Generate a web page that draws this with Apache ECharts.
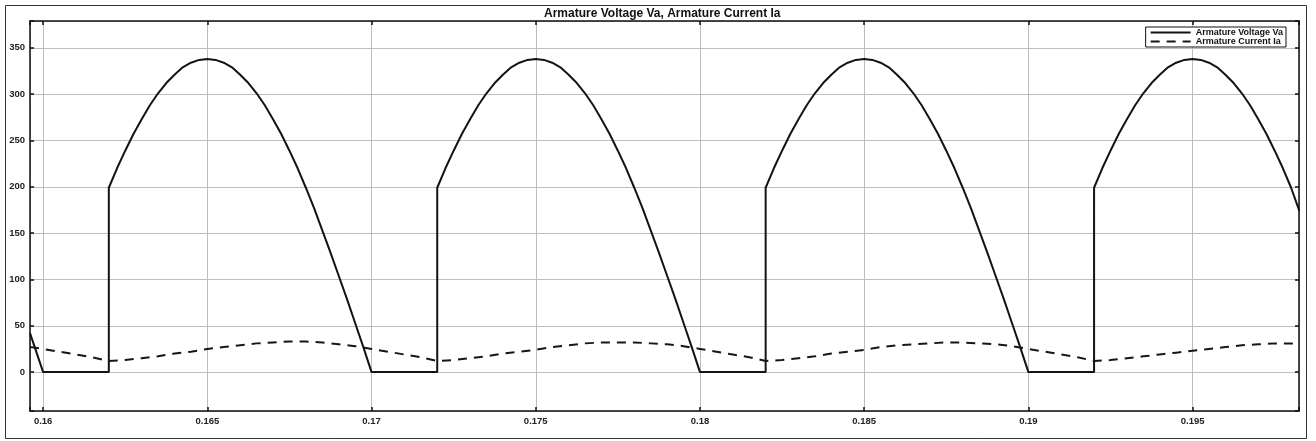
<!DOCTYPE html>
<html>
<head>
<meta charset="utf-8">
<script src="https://cdn.jsdelivr.net/npm/echarts@6/dist/echarts.min.js"></script>
<style>
  html, body { margin: 0; padding: 0; background: #fff; }
  #main { width: 1316px; height: 441px; }
</style>
</head>
<body>
<div id="main"></div>
<script>
// 数据：电枢电压 Va（时间 / 数值）
var vaTime = [
  0.1596, 0.16, 0.162, 0.162, 0.16225, 0.1625, 0.16275, 0.163, 0.16325, 0.1635, 0.16375, 0.164, 0.16425, 0.1645, 0.16475,
  0.165, 0.16525, 0.1655, 0.16575, 0.166, 0.16625, 0.1665, 0.16675, 0.167, 0.16725, 0.1675, 0.16775, 0.168, 0.16825,
  0.1685, 0.16875, 0.169, 0.16925, 0.1695, 0.16975,
  0.17, 0.172, 0.172, 0.17225, 0.1725, 0.17275, 0.173, 0.17325, 0.1735, 0.17375, 0.174, 0.17425, 0.1745, 0.17475,
  0.175, 0.17525, 0.1755, 0.17575, 0.176, 0.17625, 0.1765, 0.17675, 0.177, 0.17725, 0.1775, 0.17775, 0.178, 0.17825,
  0.1785, 0.17875, 0.179, 0.17925, 0.1795, 0.17975,
  0.18, 0.182, 0.182, 0.18225, 0.1825, 0.18275, 0.183, 0.18325, 0.1835, 0.18375, 0.184, 0.18425, 0.1845, 0.18475,
  0.185, 0.18525, 0.1855, 0.18575, 0.186, 0.18625, 0.1865, 0.18675, 0.187, 0.18725, 0.1875, 0.18775, 0.188, 0.18825,
  0.1885, 0.18875, 0.189, 0.18925, 0.1895, 0.18975,
  0.19, 0.192, 0.192, 0.19225, 0.1925, 0.19275, 0.193, 0.19325, 0.1935, 0.19375, 0.194, 0.19425, 0.1945, 0.19475,
  0.195, 0.19525, 0.1955, 0.19575, 0.196, 0.19625, 0.1965, 0.19675, 0.197, 0.19725, 0.1975, 0.19775, 0.198, 0.19825
];
var vaValue = [
  42, 0, 0, 199, 220, 239, 257, 273, 288, 301, 312, 321, 329, 334, 337,
  338, 337, 334, 329, 321, 312, 301, 288, 273, 257, 239, 220, 199, 177,
  153, 129, 104, 79, 53, 27,
  0, 0, 199, 220, 239, 257, 273, 288, 301, 312, 321, 329, 334, 337,
  338, 337, 334, 329, 321, 312, 301, 288, 273, 257, 239, 220, 199, 177,
  153, 129, 104, 79, 53, 27,
  0, 0, 199, 220, 239, 257, 273, 288, 301, 312, 321, 329, 334, 337,
  338, 337, 334, 329, 321, 312, 301, 288, 273, 257, 239, 220, 199, 177,
  153, 129, 104, 79, 53, 27,
  0, 0, 199, 220, 239, 257, 273, 288, 301, 312, 321, 329, 334, 337,
  338, 337, 334, 329, 321, 312, 301, 288, 273, 257, 239, 220, 199, 174
];

// 数据：电枢电流 Ia
var iaTime = [
  0.1596, 0.16, 0.1605, 0.161, 0.1615, 0.162, 0.1625, 0.163, 0.1635, 0.164, 0.1645,
  0.165, 0.1655, 0.166, 0.1665, 0.167, 0.1675, 0.168, 0.1685, 0.169, 0.1695,
  0.17, 0.1705, 0.171, 0.1715, 0.172, 0.1725, 0.173, 0.1735, 0.174, 0.1745,
  0.175, 0.1755, 0.176, 0.1765, 0.177, 0.1775, 0.178, 0.1785, 0.179, 0.1795,
  0.18, 0.1805, 0.181, 0.1815, 0.182, 0.1825, 0.183, 0.1835, 0.184, 0.1845,
  0.185, 0.1855, 0.186, 0.1865, 0.187, 0.1875, 0.188, 0.1885, 0.189, 0.1895,
  0.19, 0.1905, 0.191, 0.1915, 0.192, 0.1925, 0.193, 0.1935, 0.194, 0.1945,
  0.195, 0.1955, 0.196, 0.1965, 0.197, 0.1975, 0.198, 0.19825
];
var iaValue = [
  27, 25, 22, 19, 16, 12, 13, 15, 17, 20, 22,
  25, 27, 29, 31, 32, 33, 33, 32, 30, 28,
  25, 22, 19, 16, 12, 13, 15, 17, 20, 22,
  24, 27, 29, 31, 32, 32, 32, 31, 30, 28,
  25, 22, 19, 16, 12, 13, 15, 17, 20, 22,
  24, 27, 29, 30, 31, 32, 32, 31, 30, 28,
  25, 22, 19, 16, 12, 13, 15, 17, 19, 21,
  23, 25, 27, 29, 30, 31, 31, 31
];

var seriesNames = ['Armature Voltage Va', 'Armature Current Ia'];
var chartTitle = 'Armature Voltage Va, Armature Current Ia';

function pairs(t, v) {
  var out = [];
  for (var i = 0; i < t.length; i++) out.push([t[i], v[i]]);
  return out;
}

var xMin = 0.1596, xMax = 0.19824;
var yMin = -42, yMax = 379;

function xLabel(v) {
  var k = Math.round(v * 200);
  if (Math.abs(v * 200 - k) > 1e-6) return '';
  return String(+(k / 200).toFixed(3));
}
function yLabel(v) {
  if (Math.abs(v % 50) > 1e-6) return '';
  return String(v);
}

var myChart = echarts.init(document.getElementById('main'));

var axisLineStyle = { color: '#111', width: 1.5 };
var labelFont = { fontFamily: 'Liberation Sans', fontSize: 9.5, fontWeight: 'bold', color: '#222' };

var option = {
  animation: false,
  backgroundColor: '#fff',
  title: {
    text: chartTitle,
    left: 544,
    top: 8,
    padding: 0,
    textStyle: { fontFamily: 'Liberation Sans', fontSize: 12, fontWeight: 'bold', color: '#111' }
  },
  legend: {
    orient: 'vertical',
    right: 30,
    top: 27,
    itemWidth: 40,
    itemHeight: 6,
    itemGap: 0,
    padding: [1, 3, 1, 4],
    borderColor: '#111',
    borderWidth: 1,
    backgroundColor: '#fff',
    itemStyle: { opacity: 0 },
    textStyle: { fontFamily: 'Liberation Sans', fontSize: 9, color: '#111', fontWeight: 'bold' },
    data: seriesNames
  },
  grid: { left: 30, right: 17, top: 21, bottom: 30 },
  xAxis: [{
    type: 'value',
    min: xMin,
    max: xMax,
    splitNumber: 8,
    axisLine: { show: true, onZero: false, lineStyle: axisLineStyle },
    axisTick: { show: true, inside: true, length: 4, lineStyle: axisLineStyle },
    axisLabel: Object.assign({ formatter: xLabel, margin: 5 }, labelFont),
    splitLine: { show: true, lineStyle: { color: '#bdbdbd', width: 1 } }
  }, {
    type: 'value',
    position: 'top',
    min: xMin,
    max: xMax,
    splitNumber: 8,
    axisLine: { show: true, onZero: false, lineStyle: axisLineStyle },
    axisTick: { show: true, inside: true, length: 4, lineStyle: axisLineStyle },
    axisLabel: { show: false },
    splitLine: { show: false }
  }],
  yAxis: [{
    type: 'value',
    min: yMin,
    max: yMax,
    splitNumber: 8,
    axisLine: { show: true, onZero: false, lineStyle: axisLineStyle },
    axisTick: { show: true, inside: true, length: 4, lineStyle: axisLineStyle },
    axisLabel: Object.assign({ formatter: yLabel, margin: 5 }, labelFont),
    splitLine: { show: true, lineStyle: { color: '#bdbdbd', width: 1 } }
  }, {
    type: 'value',
    position: 'right',
    min: yMin,
    max: yMax,
    splitNumber: 8,
    axisLine: { show: true, onZero: false, lineStyle: axisLineStyle },
    axisTick: { show: true, inside: true, length: 4, lineStyle: axisLineStyle },
    axisLabel: { show: false },
    splitLine: { show: false }
  }],
  graphic: [{
    type: 'rect',
    shape: { x: 5.5, y: 5.5, width: 1301, height: 433 },
    style: { fill: null, stroke: '#333', lineWidth: 1 },
    silent: true
  }],
  series: [{
    name: seriesNames[0],
    type: 'line',
    symbol: 'none',
    color: '#101418',
    lineStyle: { color: '#101418', width: 2 },
    data: pairs(vaTime, vaValue)
  }, {
    name: seriesNames[1],
    type: 'line',
    symbol: 'none',
    color: '#1c1412',
    lineStyle: { color: '#1c1412', width: 2, type: [9, 7] },
    data: pairs(iaTime, iaValue)
  }]
};

myChart.setOption(option);
</script>
</body>
</html>
